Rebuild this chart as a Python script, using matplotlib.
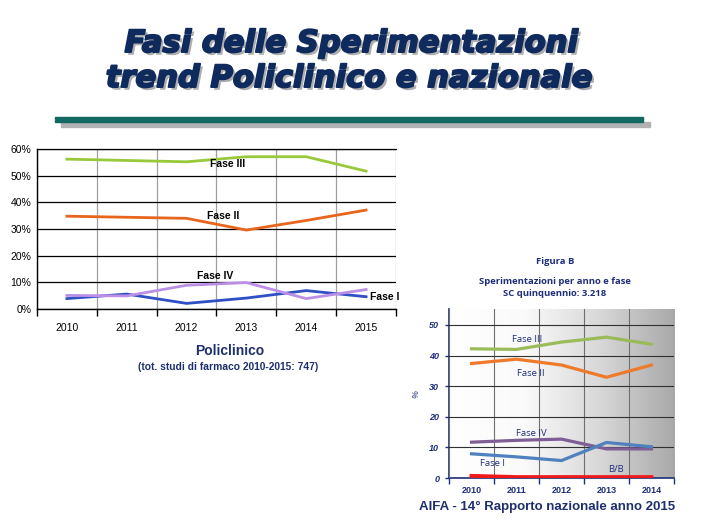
import numpy as np
import matplotlib
matplotlib.use("Agg")
import matplotlib.pyplot as plt
import matplotlib.patheffects as pe
from matplotlib.colors import LinearSegmentedColormap
from matplotlib.ticker import FixedLocator, FuncFormatter

plt.rcParams['font.family'] = ['Liberation Sans', 'DejaVu Sans']

# ---------------- data ----------------
years_pol = ["2010", "2011", "2012", "2013", "2014", "2015"]
pol_fase1 = [3.9, 5.6, 2.1, 4.1, 6.9, 4.6]
pol_fase2 = [34.8, 34.4, 34.0, 29.6, 33.2, 37.1]
pol_fase3 = [56.2, 55.7, 55.2, 57.1, 57.1, 51.7]
pol_fase4 = [5.1, 4.9, 8.9, 9.9, 3.9, 7.3]

years_naz = ["2010", "2011", "2012", "2013", "2014"]
naz_fase1 = [7.9, 6.9, 5.7, 11.6, 10.2]
naz_fase2 = [37.4, 38.8, 36.9, 32.9, 36.9]
naz_fase3 = [42.2, 42.0, 44.4, 46.0, 43.7]
naz_fase4 = [11.7, 12.3, 12.7, 9.5, 9.5]
naz_bb = [0.7, 0.3, 0.3, 0.3, 0.3]

W, H = 706, 525
fig = plt.figure(figsize=(W / 100, H / 100), dpi=100)
navy = "#0F2A5C"

def fx(x):
    return x / W

def fy(y):
    return 1 - y / H

# ---------------- title ----------------
title_lines = ["Fasi delle Sperimentazioni", "trend Policlinico e nazionale"]
for line, xc, yb in zip(title_lines, [351, 349], [52, 87]):
    fig.text(fx(xc), fy(yb), line, ha="center", va="baseline", fontsize=22,
             fontweight="bold", fontstyle="italic", color=navy,
             family=["DejaVu Sans"],
             path_effects=[pe.withSimplePatchShadow(offset=(2, -2), shadow_rgbFace="#9a9a9a", alpha=0.8),
                           pe.withStroke(linewidth=1.4, foreground=navy)])

# separator lines
fig.patches.append(plt.Rectangle((fx(61), fy(127)), fx(650) - fx(61), fy(122) - fy(127),
                                 transform=fig.transFigure, color="#B2B2B2", zorder=1))
fig.patches.append(plt.Rectangle((fx(55), fy(122)), fx(643) - fx(55), fy(117) - fy(122),
                                 transform=fig.transFigure, color="#12695F", zorder=2))

# ---------------- left chart (Policlinico) ----------------
axL = fig.add_axes([fx(37), fy(309), fx(396) - fx(37), fy(149) - fy(309)])
xl = np.arange(len(years_pol))
cols_pol = {"I": "#2F4FC4", "II": "#E8651E", "III": "#99C93A", "IV": "#BB8FE6"}
axL.plot(xl, pol_fase3, color=cols_pol["III"], lw=2, zorder=3)
axL.plot(xl, pol_fase2, color=cols_pol["II"], lw=2, zorder=3)
axL.plot(xl, pol_fase1, color=cols_pol["I"], lw=2, zorder=3)
axL.plot(xl, pol_fase4, color=cols_pol["IV"], lw=2, zorder=4)
axL.set_xlim(-0.5, len(years_pol) - 0.5)
axL.set_ylim(0, 60)
axL.set_yticks(np.arange(0, 61, 10))
axL.yaxis.set_major_formatter(FuncFormatter(lambda v, p: f"{int(v)}%"))
axL.set_xticks(xl)
axL.set_xticklabels(years_pol)
axL.xaxis.set_minor_locator(FixedLocator(np.arange(-0.5, len(years_pol), 1.0)))
axL.tick_params(axis="x", which="major", length=0, pad=10, labelsize=7.5)
axL.tick_params(axis="x", which="minor", length=5, direction="out", width=1, color="black")
axL.tick_params(axis="y", length=0, pad=4, labelsize=7.5)
axL.grid(axis="y", color="black", lw=0.9)
axL.grid(axis="x", which="minor", color="#A0A0A0", lw=0.9)
axL.set_axisbelow(True)
axL.spines["right"].set_visible(False)
axL.spines["top"].set_linewidth(0.9)
axL.spines["left"].set_linewidth(1)
axL.spines["bottom"].set_linewidth(1)

lab_kw = dict(fontsize=7.5, fontweight="bold", color="black", ha="center", va="center")
fig.text(fx(228), fy(164), "Fase III", zorder=5, **lab_kw)
fig.text(fx(223), fy(216), "Fase II", zorder=5, **lab_kw)
fig.text(fx(215), fy(276), "Fase IV", zorder=5, **lab_kw)
fig.text(fx(385), fy(297), "Fase I", zorder=5, **lab_kw)

fig.text(fx(230), fy(351), "Policlinico", ha="center", va="center", fontsize=10,
         fontweight="bold", color="#1F2F6E")
fig.text(fx(228), fy(367), "(tot. studi di farmaco 2010-2015: 747)", ha="center", va="center",
         fontsize=7.4, fontweight="bold", color="#1F2F6E")

# ---------------- right chart (nazionale) ----------------
axR = fig.add_axes([fx(449), fy(478), fx(674) - fx(449), fy(309) - fy(478)])
xr = np.arange(len(years_naz))
grad_cmap = LinearSegmentedColormap.from_list("g", ["#FFFFFF", "#FAFAFA", "#D8D8D8", "#A9A9A9"])
grad = np.linspace(0, 1, 256).reshape(1, -1)
axR.imshow(grad, cmap=grad_cmap, aspect="auto", extent=[0, 1, 0, 1],
           transform=axR.transAxes, zorder=0)
navy2 = "#1F2F7A"
cols_naz = {"I": "#4F81BD", "II": "#EE7A2C", "III": "#9BBB59", "IV": "#7D5E95", "BB": "#F01818"}
axR.plot(xr, naz_fase3, color=cols_naz["III"], lw=2.3, zorder=3)
axR.plot(xr, naz_fase2, color=cols_naz["II"], lw=2.3, zorder=3)
axR.plot(xr, naz_fase4, color=cols_naz["IV"], lw=2.3, zorder=3)
axR.plot(xr, naz_fase1, color=cols_naz["I"], lw=2.3, zorder=3)
axR.plot(xr, naz_bb, color=cols_naz["BB"], lw=2.8, zorder=3)
axR.set_xlim(-0.5, len(years_naz) - 0.5)
axR.set_ylim(0, 55.2)
axR.set_yticks(np.arange(0, 51, 10))
axR.set_xticks(xr)
axR.set_xticklabels(years_naz)
axR.xaxis.set_minor_locator(FixedLocator(np.arange(-0.5, len(years_naz), 1.0)))
axR.tick_params(axis="x", which="major", length=0, pad=6, labelsize=6.5, labelcolor=navy2)
axR.tick_params(axis="x", which="minor", length=4, direction="out", width=1, color=navy2)
axR.tick_params(axis="y", length=3, direction="out", width=1, color=navy2, labelsize=6.5,
                labelcolor=navy2, pad=4)
for lbl in axR.get_xticklabels():
    lbl.set_fontweight("bold")
for lbl in axR.get_yticklabels():
    lbl.set_fontweight("bold")
    lbl.set_fontstyle("italic")
axR.grid(axis="y", color="#303030", lw=0.8)
axR.grid(axis="x", which="minor", color="#707070", lw=0.8)
axR.set_axisbelow(False)
for s in ["top", "right"]:
    axR.spines[s].set_visible(False)
axR.spines["left"].set_color(navy2)
axR.spines["bottom"].set_color(navy2)
axR.spines["left"].set_linewidth(1.2)
axR.spines["bottom"].set_linewidth(1.2)
axR.set_ylabel("%", fontsize=6.5, fontweight="bold", fontstyle="italic", color="#5A6A9A", labelpad=6)

rlab = dict(fontsize=6.8, color=navy2, ha="center", va="center", family=["Open Sans", "DejaVu Sans"])
fig.text(fx(527), fy(339), "Fase III", **rlab)
fig.text(fx(531), fy(373), "Fase II", **rlab)
fig.text(fx(531), fy(433), "Fase IV", **rlab)
fig.text(fx(492), fy(464), "Fase I", **rlab)
fig.text(fx(616), fy(469), "B/B", **rlab)

hdr = dict(ha="center", va="center", fontsize=6.8, fontweight="bold", color=navy2,
           family=["Open Sans", "DejaVu Sans"])
fig.text(fx(555), fy(261), "Figura B", **hdr)
fig.text(fx(555), fy(281), "Sperimentazioni per anno e fase", **hdr)
fig.text(fx(555), fy(294), "SC quinquennio: 3.218", **hdr)

fig.text(fx(547), fy(507), "AIFA - 14° Rapporto nazionale anno 2015", ha="center", va="center",
         fontsize=9.5, fontweight="bold", color="#1F2F6E")

fig.savefig("out.png", dpi=100)
